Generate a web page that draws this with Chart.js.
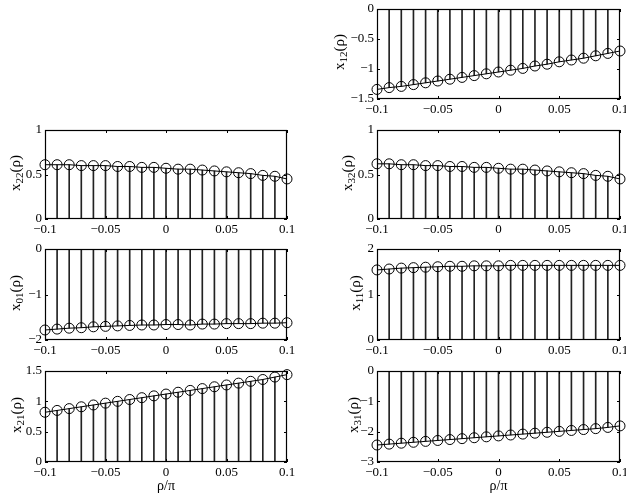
<!DOCTYPE html>
<html>
<head>
<meta charset="utf-8">
<script src="https://cdn.jsdelivr.net/npm/chart.js@4.4.1/dist/chart.umd.min.js"></script>
<style>
  body { margin: 0; background: #fff; }
  #wrap { position: relative; width: 626px; height: 500px; overflow: hidden; }
  #wrap canvas { position: absolute; }
  .ylab {
    position: absolute; width: 100px; height: 20px; line-height: 20px;
    text-align: center; font-family: 'Liberation Serif', serif; font-size: 15px;
    color: #000; transform: rotate(-90deg); transform-origin: 50% 50%; white-space: nowrap;
  }
  .ylab sub { font-size: 11px; vertical-align: -3px; line-height: 0; }
</style>
</head>
<body>
<div id="wrap"></div>
<script>
const rho = [-0.1, -0.09, -0.08, -0.07, -0.06, -0.05, -0.04, -0.03, -0.02, -0.01, 0,
  0.01, 0.02, 0.03, 0.04, 0.05, 0.06, 0.07, 0.08, 0.09, 0.1];

const x12 = [-1.34, -1.31, -1.29, -1.26, -1.23, -1.20, -1.17, -1.14, -1.11, -1.08, -1.05,
  -1.02, -0.99, -0.95, -0.92, -0.88, -0.85, -0.82, -0.78, -0.74, -0.70];
const x22 = [0.61, 0.61, 0.61, 0.60, 0.60, 0.60, 0.59, 0.59, 0.58, 0.58, 0.57,
  0.56, 0.56, 0.55, 0.54, 0.53, 0.52, 0.51, 0.49, 0.48, 0.45];
const x32 = [0.62, 0.62, 0.61, 0.61, 0.60, 0.60, 0.59, 0.59, 0.58, 0.58, 0.57,
  0.56, 0.56, 0.55, 0.54, 0.53, 0.52, 0.51, 0.49, 0.48, 0.45];
const x01 = [-1.78, -1.76, -1.74, -1.73, -1.71, -1.70, -1.69, -1.68, -1.67, -1.67, -1.66,
  -1.66, -1.67, -1.65, -1.65, -1.64, -1.64, -1.64, -1.63, -1.63, -1.62];
const x11 = [1.54, 1.56, 1.58, 1.59, 1.60, 1.61, 1.62, 1.62, 1.63, 1.63, 1.63,
  1.64, 1.64, 1.64, 1.64, 1.64, 1.64, 1.64, 1.64, 1.64, 1.64];
const x21 = [0.82, 0.85, 0.88, 0.91, 0.94, 0.97, 1.00, 1.03, 1.06, 1.09, 1.12,
  1.15, 1.18, 1.21, 1.24, 1.27, 1.30, 1.33, 1.36, 1.40, 1.44];
const x31 = [-2.44, -2.41, -2.38, -2.35, -2.32, -2.29, -2.26, -2.23, -2.20, -2.17, -2.14,
  -2.11, -2.08, -2.05, -2.02, -1.99, -1.96, -1.93, -1.90, -1.86, -1.81];

const xTicks = [-0.1, -0.05, 0, 0.05, 0.1];

const tickFont = { family: 'Liberation Serif', size: 13 };

function fmt(v) {
  return String(Math.round(v * 1000) / 1000).replace('-', '\u2212');
}

// box around the plot + MATLAB style inward ticks on all four sides
const boxTicks = {
  id: 'boxTicks',
  afterDatasetsDraw(chart) {
    const { ctx, chartArea: a, scales: { x, y } } = chart;
    ctx.save();
    ctx.strokeStyle = '#000';
    ctx.lineWidth = 1;
    ctx.beginPath();
    x.ticks.forEach(t => {
      const px = Math.round(x.getPixelForValue(t.value)) + 0.5;
      ctx.moveTo(px, a.bottom); ctx.lineTo(px, a.bottom - 3);
      ctx.moveTo(px, a.top); ctx.lineTo(px, a.top + 3);
    });
    y.ticks.forEach(t => {
      const py = Math.round(y.getPixelForValue(t.value)) + 0.5;
      ctx.moveTo(a.left, py); ctx.lineTo(a.left + 3, py);
      ctx.moveTo(a.right, py); ctx.lineTo(a.right - 3, py);
    });
    ctx.stroke();
    ctx.lineWidth = 1.2;
    ctx.strokeRect(Math.round(a.left) + 0.5, Math.round(a.top) + 0.5,
      Math.round(a.width) - 1, Math.round(a.height) - 1);
    ctx.restore();
  }
};

function makeStem(p) {
  const left = p.col === 0 ? 0 : 313;
  const axisW = p.col === 0 ? 45 : 64;
  const padRight = p.col === 0 ? 26 : 6;
  const xH = p.last ? 33 : 22;
  const plotH = p.bottom - p.top;

  const canvas = document.createElement('canvas');
  canvas.width = 313;
  canvas.height = 8 + plotH + xH;
  canvas.style.left = left + 'px';
  canvas.style.top = (p.top - 8) + 'px';
  document.getElementById('wrap').appendChild(canvas);

  const lab = document.createElement('div');
  lab.className = 'ylab';
  lab.innerHTML = p.label;
  lab.style.left = (p.labX - 50) + 'px';
  lab.style.top = (p.top + plotH / 2 - 12) + 'px';
  document.getElementById('wrap').appendChild(lab);

  const pts = rho.map((r, i) => ({ x: r, y: p.values[i] }));

  new Chart(canvas.getContext('2d'), {
    type: 'bar',
    data: {
      datasets: [
        {
          type: 'line',
          data: pts,
          borderColor: '#000',
          borderWidth: 1,
          pointRadius: 5,
          pointHoverRadius: 5,
          pointBackgroundColor: 'rgba(0,0,0,0)',
          pointBorderColor: '#000',
          pointBorderWidth: 1,
          tension: 0,
          clip: false,
          order: 0
        },
        {
          type: 'bar',
          data: pts,
          backgroundColor: '#222',
          borderWidth: 0,
          barThickness: 1,
          order: 1
        }
      ]
    },
    options: {
      responsive: false,
      animation: false,
      events: [],
      layout: { padding: { top: 8, right: padRight, left: 0, bottom: 0 } },
      plugins: { legend: { display: false }, tooltip: { enabled: false } },
      scales: {
        x: {
          type: 'linear',
          offset: false,
          min: xTicks[0],
          max: xTicks[xTicks.length - 1],
          grid: { display: false, drawTicks: false },
          border: { display: false },
          afterBuildTicks: s => { s.ticks = xTicks.map(v => ({ value: v })); },
          ticks: { padding: 3, color: '#000', font: tickFont, maxRotation: 0, autoSkip: false, callback: fmt },
          title: {
            display: !!p.last, text: 'ρ/π', color: '#000',
            font: { family: 'Liberation Serif', size: 14 }, padding: { top: 0, bottom: 0 }
          },
          afterFit: s => { s.height = xH; s.paddingLeft = 0; s.paddingRight = 0; }
        },
        y: {
          type: 'linear',
          min: p.yTicks[0],
          max: p.yTicks[p.yTicks.length - 1],
          grid: { display: false, drawTicks: false },
          border: { display: false },
          afterBuildTicks: s => { s.ticks = p.yTicks.map(v => ({ value: v })); },
          ticks: { padding: 3, color: '#000', font: tickFont, autoSkip: false, callback: fmt },
          afterFit: s => { s.width = axisW; s.paddingTop = 0; s.paddingBottom = 0; }
        }
      }
    },
    plugins: [boxTicks]
  });
}

makeStem({ col: 1, top: 9, bottom: 99, values: x12, yTicks: [-1.5, -1, -0.5, 0], label: 'x<sub>12</sub>(ρ)', labX: 339 });
makeStem({ col: 0, top: 130, bottom: 219, values: x22, yTicks: [0, 0.5, 1], label: 'x<sub>22</sub>(ρ)', labX: 15 });
makeStem({ col: 1, top: 130, bottom: 219, values: x32, yTicks: [0, 0.5, 1], label: 'x<sub>32</sub>(ρ)', labX: 347 });
makeStem({ col: 0, top: 249, bottom: 340, values: x01, yTicks: [-2, -1, 0], label: 'x<sub>01</sub>(ρ)', labX: 15 });
makeStem({ col: 1, top: 249, bottom: 340, values: x11, yTicks: [0, 1, 2], label: 'x<sub>11</sub>(ρ)', labX: 355 });
makeStem({ col: 0, top: 371, bottom: 462, values: x21, yTicks: [0, 0.5, 1, 1.5], label: 'x<sub>21</sub>(ρ)', labX: 16, last: true });
makeStem({ col: 1, top: 371, bottom: 462, values: x31, yTicks: [-3, -2, -1, 0], label: 'x<sub>31</sub>(ρ)', labX: 353, last: true });
</script>
</body>
</html>
